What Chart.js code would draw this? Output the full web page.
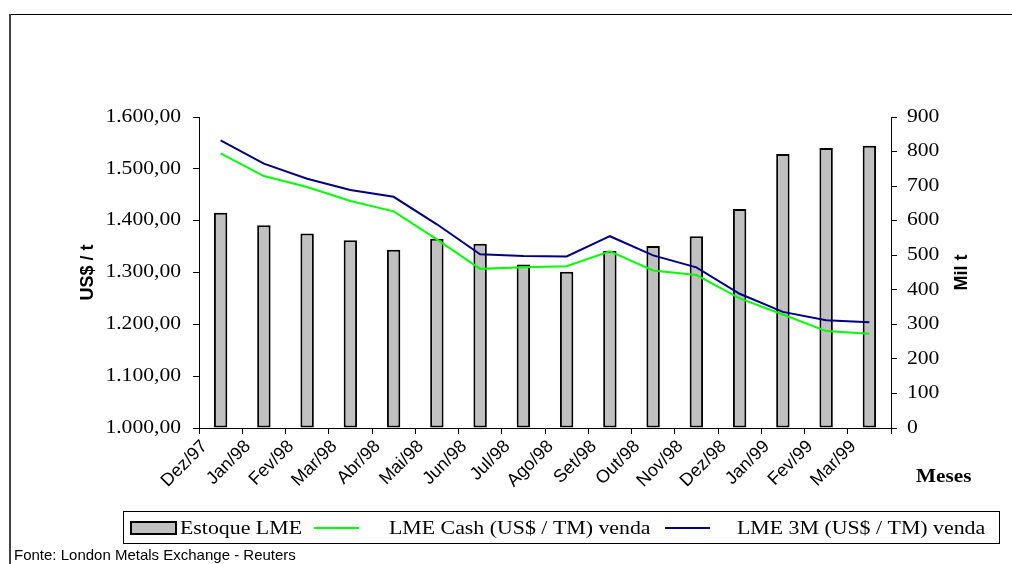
<!DOCTYPE html>
<html>
<head>
<meta charset="utf-8">
<script src="https://cdn.jsdelivr.net/npm/chart.js@4/dist/chart.umd.min.js"></script>
<style>
  html, body { margin: 0; padding: 0; background: #fff; }
  canvas { display: block; }
</style>
</head>
<body>
<canvas id="c" width="1012" height="564"></canvas>
<script>
// Monthly aluminium data, LME
const months = ['Dez/97', 'Jan/98', 'Fev/98', 'Mar/98', 'Abr/98', 'Mai/98', 'Jun/98', 'Jul/98',
                'Ago/98', 'Set/98', 'Out/98', 'Nov/98', 'Dez/98', 'Jan/99', 'Fev/99', 'Mar/99'];

// LME stocks, thousand tonnes (right axis)
const estoqueLME = [623, 587, 563, 543, 516, 548, 533, 473, 452, 512, 527, 555, 634, 793, 810, 817];

// LME selling prices, US$ per tonne (left axis)
const lmeCash = [1530, 1486, 1465, 1438, 1418, 1364, 1307, 1310, 1312, 1341, 1304, 1295, 1250, 1219, 1187, 1182];
const lme3M   = [1555, 1510, 1481, 1459, 1446, 1393, 1335, 1332, 1331, 1370, 1333, 1310, 1259, 1224, 1208, 1204];

// Axis ticks
const priceTicks = [1000, 1100, 1200, 1300, 1400, 1500, 1600];
const priceTickLabels = ['1.000,00', '1.100,00', '1.200,00', '1.300,00', '1.400,00', '1.500,00', '1.600,00'];
const stockTicks = [0, 100, 200, 300, 400, 500, 600, 700, 800, 900];
const stockTickLabels = ['0', '100', '200', '300', '400', '500', '600', '700', '800', '900'];

const legendLabels = ['Estoque LME', 'LME Cash (US$ / TM) venda', 'LME 3M (US$ / TM) venda'];
const leftTitle = 'US$ / t';
const rightTitle = 'Mil t';
const xTitle = 'Meses';
const sourceNote = 'Fonte: London Metals Exchange - Reuters';

const SERIF = '"Liberation Serif", "Times New Roman", serif';
const SANS = '"Liberation Sans", Arial, sans-serif';

const BAR_FILL = '#c0c0c0';
const CASH_COLOR = '#00ff00';
const M3_COLOR = '#000080';

// Chart area bounds inside the canvas
const AREA = { left: 199, right: 891, top: 117, bottom: 428 };
const W = 1012, H = 564;

function wideText(ctx, text, x, y, opts) {
  ctx.save();
  ctx.font = opts.font;
  ctx.fillStyle = opts.color || '#000';
  ctx.textAlign = opts.align || 'left';
  ctx.textBaseline = opts.baseline || 'alphabetic';
  ctx.translate(x, y);
  if (opts.rotate) ctx.rotate(opts.rotate);
  ctx.scale(opts.sx || 1, opts.sy || 1);
  ctx.fillText(text, 0, 0);
  ctx.restore();
}

const decorations = {
  id: 'decorations',
  afterDraw(chart) {
    const ctx = chart.ctx;
    const yL = chart.scales.y;
    const yR = chart.scales.y1;

    // value axis labels
    priceTicks.forEach((v, i) => {
      wideText(ctx, priceTickLabels[i], 181, yL.getPixelForValue(v),
        { font: '18px ' + SERIF, align: 'right', baseline: 'middle', sx: 1.2 });
    });
    stockTicks.forEach((v, i) => {
      wideText(ctx, stockTickLabels[i], 907, yR.getPixelForValue(v),
        { font: '18px ' + SERIF, align: 'left', baseline: 'middle', sx: 1.2 });
    });

    // axis titles
    wideText(ctx, leftTitle, 88, (AREA.top + AREA.bottom) / 2,
      { font: 'bold 18px ' + SANS, align: 'center', baseline: 'middle', rotate: -Math.PI / 2 });
    wideText(ctx, rightTitle, 962, (AREA.top + AREA.bottom) / 2,
      { font: 'bold 18px ' + SANS, align: 'center', baseline: 'middle', rotate: -Math.PI / 2 });
    wideText(ctx, xTitle, 916, 482, { font: 'bold 18px ' + SERIF, sx: 1.18 });

    // legend box
    ctx.save();
    ctx.strokeStyle = '#000';
    ctx.lineWidth = 1;
    ctx.strokeRect(123.5, 511.5, 876, 32);
    // bar swatch
    ctx.fillStyle = BAR_FILL;
    ctx.fillRect(131, 522, 45, 12);
    ctx.lineWidth = 2;
    ctx.strokeRect(131, 522, 45, 12);
    // line swatches
    ctx.lineWidth = 2;
    ctx.strokeStyle = CASH_COLOR;
    ctx.beginPath(); ctx.moveTo(314, 528); ctx.lineTo(359, 528); ctx.stroke();
    ctx.strokeStyle = M3_COLOR;
    ctx.beginPath(); ctx.moveTo(665, 528); ctx.lineTo(710, 528); ctx.stroke();
    ctx.restore();

    const lf = { font: '19px ' + SERIF, sx: 1.15 };
    wideText(ctx, legendLabels[0], 180, 534, lf);
    wideText(ctx, legendLabels[1], 389, 534, lf);
    wideText(ctx, legendLabels[2], 737, 534, lf);

    // source note
    wideText(ctx, sourceNote, 14, 560, { font: '15px ' + SANS });

    // outer frame
    ctx.save();
    ctx.fillStyle = '#000';
    ctx.fillRect(9, 14, W - 9, 1);
    ctx.fillStyle = '#404040';
    ctx.fillRect(9, 14, 2, H - 14);
    ctx.restore();
  }
};

const axisGrid = {
  display: true,
  drawOnChartArea: false,
  drawTicks: true,
  tickLength: 6,
  tickWidth: 1,
  tickColor: '#000'
};

new Chart(document.getElementById('c'), {
  data: {
    labels: months,
    datasets: [
      {
        type: 'line',
        label: legendLabels[1],
        data: lmeCash,
        yAxisID: 'y',
        borderColor: CASH_COLOR,
        borderWidth: 2,
        pointRadius: 0,
        tension: 0,
        order: 1
      },
      {
        type: 'line',
        label: legendLabels[2],
        data: lme3M,
        yAxisID: 'y',
        borderColor: M3_COLOR,
        borderWidth: 2,
        pointRadius: 0,
        tension: 0,
        order: 0
      },
      {
        type: 'bar',
        label: legendLabels[0],
        data: estoqueLME,
        yAxisID: 'y1',
        backgroundColor: BAR_FILL,
        borderColor: '#000',
        borderWidth: 2,
        borderSkipped: false,
        barPercentage: 0.31,
        categoryPercentage: 1,
        order: 2
      }
    ]
  },
  options: {
    responsive: false,
    animation: false,
    devicePixelRatio: 1,
    layout: { padding: { top: AREA.top, left: 0, right: 0, bottom: 0 } },
    plugins: {
      legend: { display: false },
      tooltip: { enabled: false },
      title: { display: false }
    },
    scales: {
      x: {
        type: 'category',
        offset: true,
        grid: Object.assign({}, axisGrid, { offset: true }),
        border: { display: true, color: '#000', width: 1 },
        ticks: {
          autoSkip: false,
          minRotation: 45,
          maxRotation: 45,
          labelOffset: -16,
          padding: 2,
          color: '#000',
          font: { family: SANS, size: 18 }
        },
        afterFit(s) { s.height = H - AREA.bottom; }
      },
      y: {
        type: 'linear',
        position: 'left',
        min: 1000,
        max: 1600,
        ticks: { stepSize: 100, display: false },
        grid: axisGrid,
        border: { display: true, color: '#000', width: 1 },
        afterFit(s) { s.width = AREA.left; }
      },
      y1: {
        type: 'linear',
        position: 'right',
        min: 0,
        max: 900,
        ticks: { stepSize: 100, display: false },
        grid: axisGrid,
        border: { display: true, color: '#000', width: 1 },
        afterFit(s) { s.width = W - AREA.right; }
      }
    }
  },
  plugins: [decorations]
});
</script>
</body>
</html>
